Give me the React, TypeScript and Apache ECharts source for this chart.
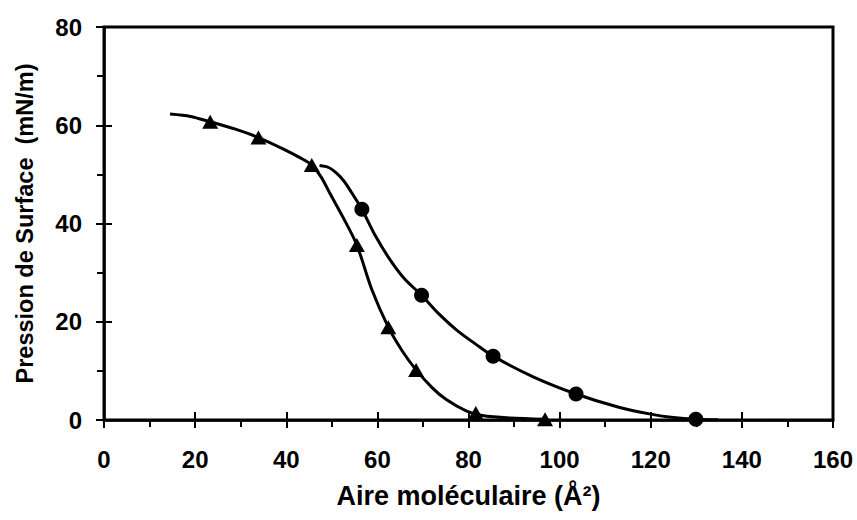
import React, { useEffect, useRef } from "react";
import * as echarts from "echarts";

const triangleX = [23.3, 33.9, 45.6, 55.5, 62.4, 68.5, 81.6, 96.8];
const triangleY = [60.7, 57.5, 51.9, 35.6, 18.9, 10.2, 1.4, 0.15];
const circleX = [56.6, 69.7, 85.4, 103.6, 129.9];
const circleY = [42.9, 25.4, 13.0, 5.3, 0.15];

// Fitted curves, points
const triangleCurveX = [14.5, 19, 23.3, 28.5, 33.9, 39.5, 43, 45.6, 47.7, 49.6, 52.5, 55.5, 58.8, 62.4, 65.5, 68.5, 72, 75.2, 79.6, 83, 89, 96.8];
const triangleCurveY = [62.3, 61.8, 60.7, 59.3, 57.5, 55.1, 53.4, 51.9, 49.4, 46.1, 41.2, 35.6, 26.5, 18.9, 14.0, 10.2, 6.6, 4.1, 1.8, 0.9, 0.4, 0.15];
const circleCurveX = [47.3, 49.3, 51.1, 52.6, 54, 56.6, 59.5, 62.8, 66, 69.7, 73.5, 77.4, 81.5, 85.4, 94.2, 103.6, 113, 120, 125, 129.9, 134.8];
const circleCurveY = [51.8, 51.4, 50.2, 48.7, 46.8, 42.9, 37.6, 32.6, 28.7, 25.4, 21.6, 18.3, 15.5, 13.0, 8.8, 5.3, 2.6, 1.2, 0.5, 0.15, 0.05];

const xTitle = "Aire moléculaire (Å²)";
const yTitle = "Pression de Surface  (mN/m)";
const xMin = 0, xMax = 160, xInterval = 20;
const yMin = 0, yMax = 80, yInterval = 20;

const pairs = (xs: number[], ys: number[]) => xs.map((x, i) => [x, ys[i]]);

export default function App() {
  const ref = useRef<HTMLDivElement>(null);
  useEffect(() => {
    if (!ref.current) return;
    const chart = echarts.init(ref.current, undefined, { renderer: "svg" });
    const font = "'Liberation Sans', Arial, sans-serif";
    const black = "#000";
    const baseX = {
      type: "value" as const,
      min: xMin,
      max: xMax,
      interval: xInterval,
      splitLine: { show: false },
    };
    const baseY = {
      type: "value" as const,
      min: yMin,
      max: yMax,
      interval: yInterval,
      splitLine: { show: false },
    };
    const tickStyle = { color: black, width: 2 };
    chart.setOption({
      animation: false,
      backgroundColor: "#fff",
      grid: {
        left: 104,
        right: 24,
        top: 27,
        bottom: 100,
        show: true,
        borderColor: black,
        borderWidth: 3,
        backgroundColor: "transparent",
      },
      xAxis: [
        {
          ...baseX,
          position: "bottom",
          axisLine: { show: true, onZero: false, lineStyle: { color: black, width: 2.5 } },
          axisTick: { show: true, inside: false, length: 8, lineStyle: tickStyle },
          minorTick: { show: true, splitNumber: 2, length: 7, lineStyle: tickStyle },
          axisLabel: { margin: 27, color: black, fontFamily: font, fontWeight: "bold", fontSize: 24 },
          name: xTitle,
          nameLocation: "middle",
          nameGap: 62,
          nameTextStyle: { color: black, fontFamily: font, fontWeight: "bold", fontSize: 27 },
        },
        {
          ...baseX,
          position: "bottom",
          axisLine: { show: false, onZero: false },
          axisTick: { show: true, inside: true, length: 8, lineStyle: tickStyle },
          axisLabel: { show: false },
        },
      ],
      yAxis: [
        {
          ...baseY,
          position: "left",
          axisLine: { show: true, onZero: false, lineStyle: { color: black, width: 2.5 } },
          axisTick: { show: true, inside: false, length: 8, lineStyle: tickStyle },
          minorTick: { show: true, splitNumber: 2, length: 7, lineStyle: tickStyle },
          axisLabel: { margin: 22, color: black, fontFamily: font, fontWeight: "bold", fontSize: 24 },
          name: yTitle,
          nameLocation: "middle",
          nameGap: 67,
          nameTextStyle: { color: black, fontFamily: font, fontWeight: "bold", fontSize: 23.5 },
        },
        {
          ...baseY,
          position: "left",
          axisLine: { show: false, onZero: false },
          axisTick: { show: true, inside: true, length: 8, lineStyle: tickStyle },
          axisLabel: { show: false },
        },
      ],
      series: [
        {
          type: "line",
          data: pairs(triangleCurveX, triangleCurveY),
          smooth: 0.3,
          showSymbol: false,
          lineStyle: { color: black, width: 3 },
          silent: true,
        },
        {
          type: "line",
          data: pairs(circleCurveX, circleCurveY),
          smooth: 0.3,
          showSymbol: false,
          lineStyle: { color: black, width: 3 },
          silent: true,
        },
        {
          type: "scatter",
          data: pairs(triangleX, triangleY),
          symbol: "triangle",
          symbolSize: [16, 14],
          itemStyle: { color: black, opacity: 1 },
        },
        {
          type: "scatter",
          data: pairs(circleX, circleY),
          symbol: "circle",
          symbolSize: 15,
          itemStyle: { color: black, opacity: 1 },
        },
      ],
    });
    return () => chart.dispose();
  }, []);
  return <div ref={ref} style={{ width: 857, height: 520, position: "absolute", left: 0, top: 0 }} />;
}
